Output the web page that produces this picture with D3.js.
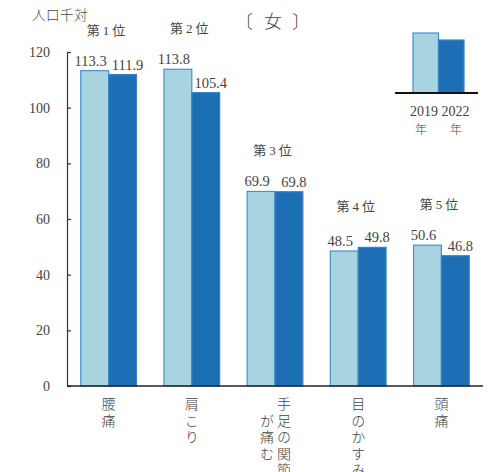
<!DOCTYPE html>
<html>
<head>
<meta charset="utf-8">
<script src="https://cdn.jsdelivr.net/npm/d3@7"></script>
<style>
  body { margin: 0; background: #fff; }
  text { font-family: "Liberation Serif", "Noto Sans CJK JP", serif; fill: #444; }
</style>
</head>
<body>
<div id="chart"></div>
<script>
// data
var categories = ["腰痛", "肩こり", "手足の関節が痛む", "目のかすみ", "頭痛"];
var labelColumns = [["腰痛"], ["肩こり"], ["手足の関節", "が痛む"], ["目のかすみ"], ["頭痛"]];
var ranks = ["第1位", "第2位", "第3位", "第4位", "第5位"];
var years = ["2019", "2022"];
var values2019 = [113.3, 113.8, 69.9, 48.5, 50.6];
var values2022 = [111.9, 105.4, 69.8, 49.8, 46.8];
var yTicks = [0, 20, 40, 60, 80, 100, 120];

var width = 493, height = 472;
var colors = ["#a8d3e0", "#1c6eb5"];
var strokes = ["#4a90cf", "#3d82c4"];

var svg = d3.select("#chart").append("svg")
    .attr("width", width)
    .attr("height", height);

var xScale = d3.scaleBand()
    .domain(d3.range(categories.length))
    .range([67, 483]);

var yScale = d3.scaleLinear()
    .domain([0, 120])
    .range([386, 52]);

var barW = xScale.bandwidth() * 0.335;

// y axis
var yAxis = d3.axisLeft(yScale)
    .tickValues(yTicks)
    .tickSizeInner(-4)
    .tickSizeOuter(0)
    .tickPadding(17);

var gy = svg.append("g")
    .attr("transform", "translate(67,0)")
    .call(yAxis);
gy.select(".domain").attr("stroke", "#333").attr("stroke-width", 1.2);
gy.selectAll(".tick line").attr("stroke", "#333").attr("stroke-width", 1.2);
gy.selectAll(".tick text")
    .style("font-size", "14px")
    .style("font-family", "Liberation Serif")
    .attr("fill", "#444");

// bars
var series = [values2019, values2022];
var labelShift = [-4, 5];
series.forEach(function(vals, s) {
    svg.selectAll("rect.s" + s)
        .data(vals)
        .enter()
        .append("rect")
        .attr("class", "s" + s)
        .attr("x", function(d, i) {
            return xScale(i) + xScale.bandwidth() / 2 - barW + s * barW;
        })
        .attr("y", function(d) { return yScale(d); })
        .attr("width", barW)
        .attr("height", function(d) { return yScale(0) - yScale(d); })
        .attr("fill", colors[s])
        .attr("stroke", strokes[s])
        .attr("stroke-width", 1.2);

    svg.selectAll("text.v" + s)
        .data(vals)
        .enter()
        .append("text")
        .attr("class", "v" + s)
        .attr("x", function(d, i) {
            return xScale(i) + xScale.bandwidth() / 2 - barW / 2 + s * barW + labelShift[s];
        })
        .attr("y", function(d) { return yScale(d) - 5; })
        .attr("text-anchor", "middle")
        .style("font-size", "14.5px")
        .text(function(d) { return d.toFixed(1); });
});

// x axis line
svg.append("line")
    .attr("x1", 67).attr("x2", 483)
    .attr("y1", yScale(0)).attr("y2", yScale(0))
    .attr("stroke", "#222")
    .attr("stroke-width", 1.5);

// rank labels
svg.selectAll("text.rank")
    .data(ranks)
    .enter()
    .append("text")
    .attr("class", "rank")
    .attr("x", function(d, i) { return xScale(i) + xScale.bandwidth() / 2 - 1; })
    .attr("y", function(d, i) {
        return yScale(Math.max(values2019[i], values2022[i])) - 36;
    })
    .attr("text-anchor", "middle")
    .style("font-size", "13px")
    .style("letter-spacing", "3px")
    .text(function(d) { return d; });

// vertical category labels
labelColumns.forEach(function(cols, i) {
    var cx = xScale(i) + xScale.bandwidth() / 2;
    cols.forEach(function(col, c) {
        var colX = cols.length > 1 ? cx + 9 - c * 17 : cx;
        svg.append("text")
            .attr("x", colX)
            .attr("y", 397 + c * 16.5)
            .style("writing-mode", "vertical-rl")
            .style("font-family", "Noto Sans CJK JP")
            .style("font-size", "14px")
            .style("letter-spacing", "2.5px")
            .style("font-weight", 300)
            .text(col);
    });
});

// title and unit
svg.append("text")
    .attr("x", 32).attr("y", 20)
    .style("font-family", "Noto Sans CJK JP")
    .style("font-size", "13.5px")
    .style("letter-spacing", "0.5px")
    .style("font-weight", 300)
    .text("人口千対");

var titleParts = ["〔", "女", "〕"];
var titleX = [244, 273, 301];
titleParts.forEach(function(t, k) {
    svg.append("text")
        .attr("x", titleX[k]).attr("y", 28)
        .attr("text-anchor", "middle")
        .style("font-family", "Noto Sans CJK JP")
        .style("font-size", "18px")
        .style("font-weight", 300)
        .text(t);
});

// legend
var legend = svg.append("g");
var legendTops = [33, 40];
var legendNumX = [424, 455.5];
var legendYearX = [421, 456];
years.forEach(function(y, s) {
    legend.append("rect")
        .attr("x", 413 + s * 25.5)
        .attr("y", legendTops[s])
        .attr("width", 25.5)
        .attr("height", 93 - legendTops[s])
        .attr("fill", colors[s])
        .attr("stroke", strokes[s])
        .attr("stroke-width", 1.2);
    legend.append("text")
        .attr("x", legendNumX[s])
        .attr("y", 116)
        .attr("text-anchor", "middle")
        .style("font-size", "14px")
        .text(y);
    legend.append("text")
        .attr("x", legendYearX[s])
        .attr("y", 134)
        .attr("text-anchor", "middle")
        .style("font-family", "Noto Sans CJK JP")
        .style("font-size", "12px")
        .style("font-weight", 300)
        .text("年");
});
legend.append("line")
    .attr("x1", 395).attr("x2", 478)
    .attr("y1", 93).attr("y2", 93)
    .attr("stroke", "#111")
    .attr("stroke-width", 2);
</script>
</body>
</html>
